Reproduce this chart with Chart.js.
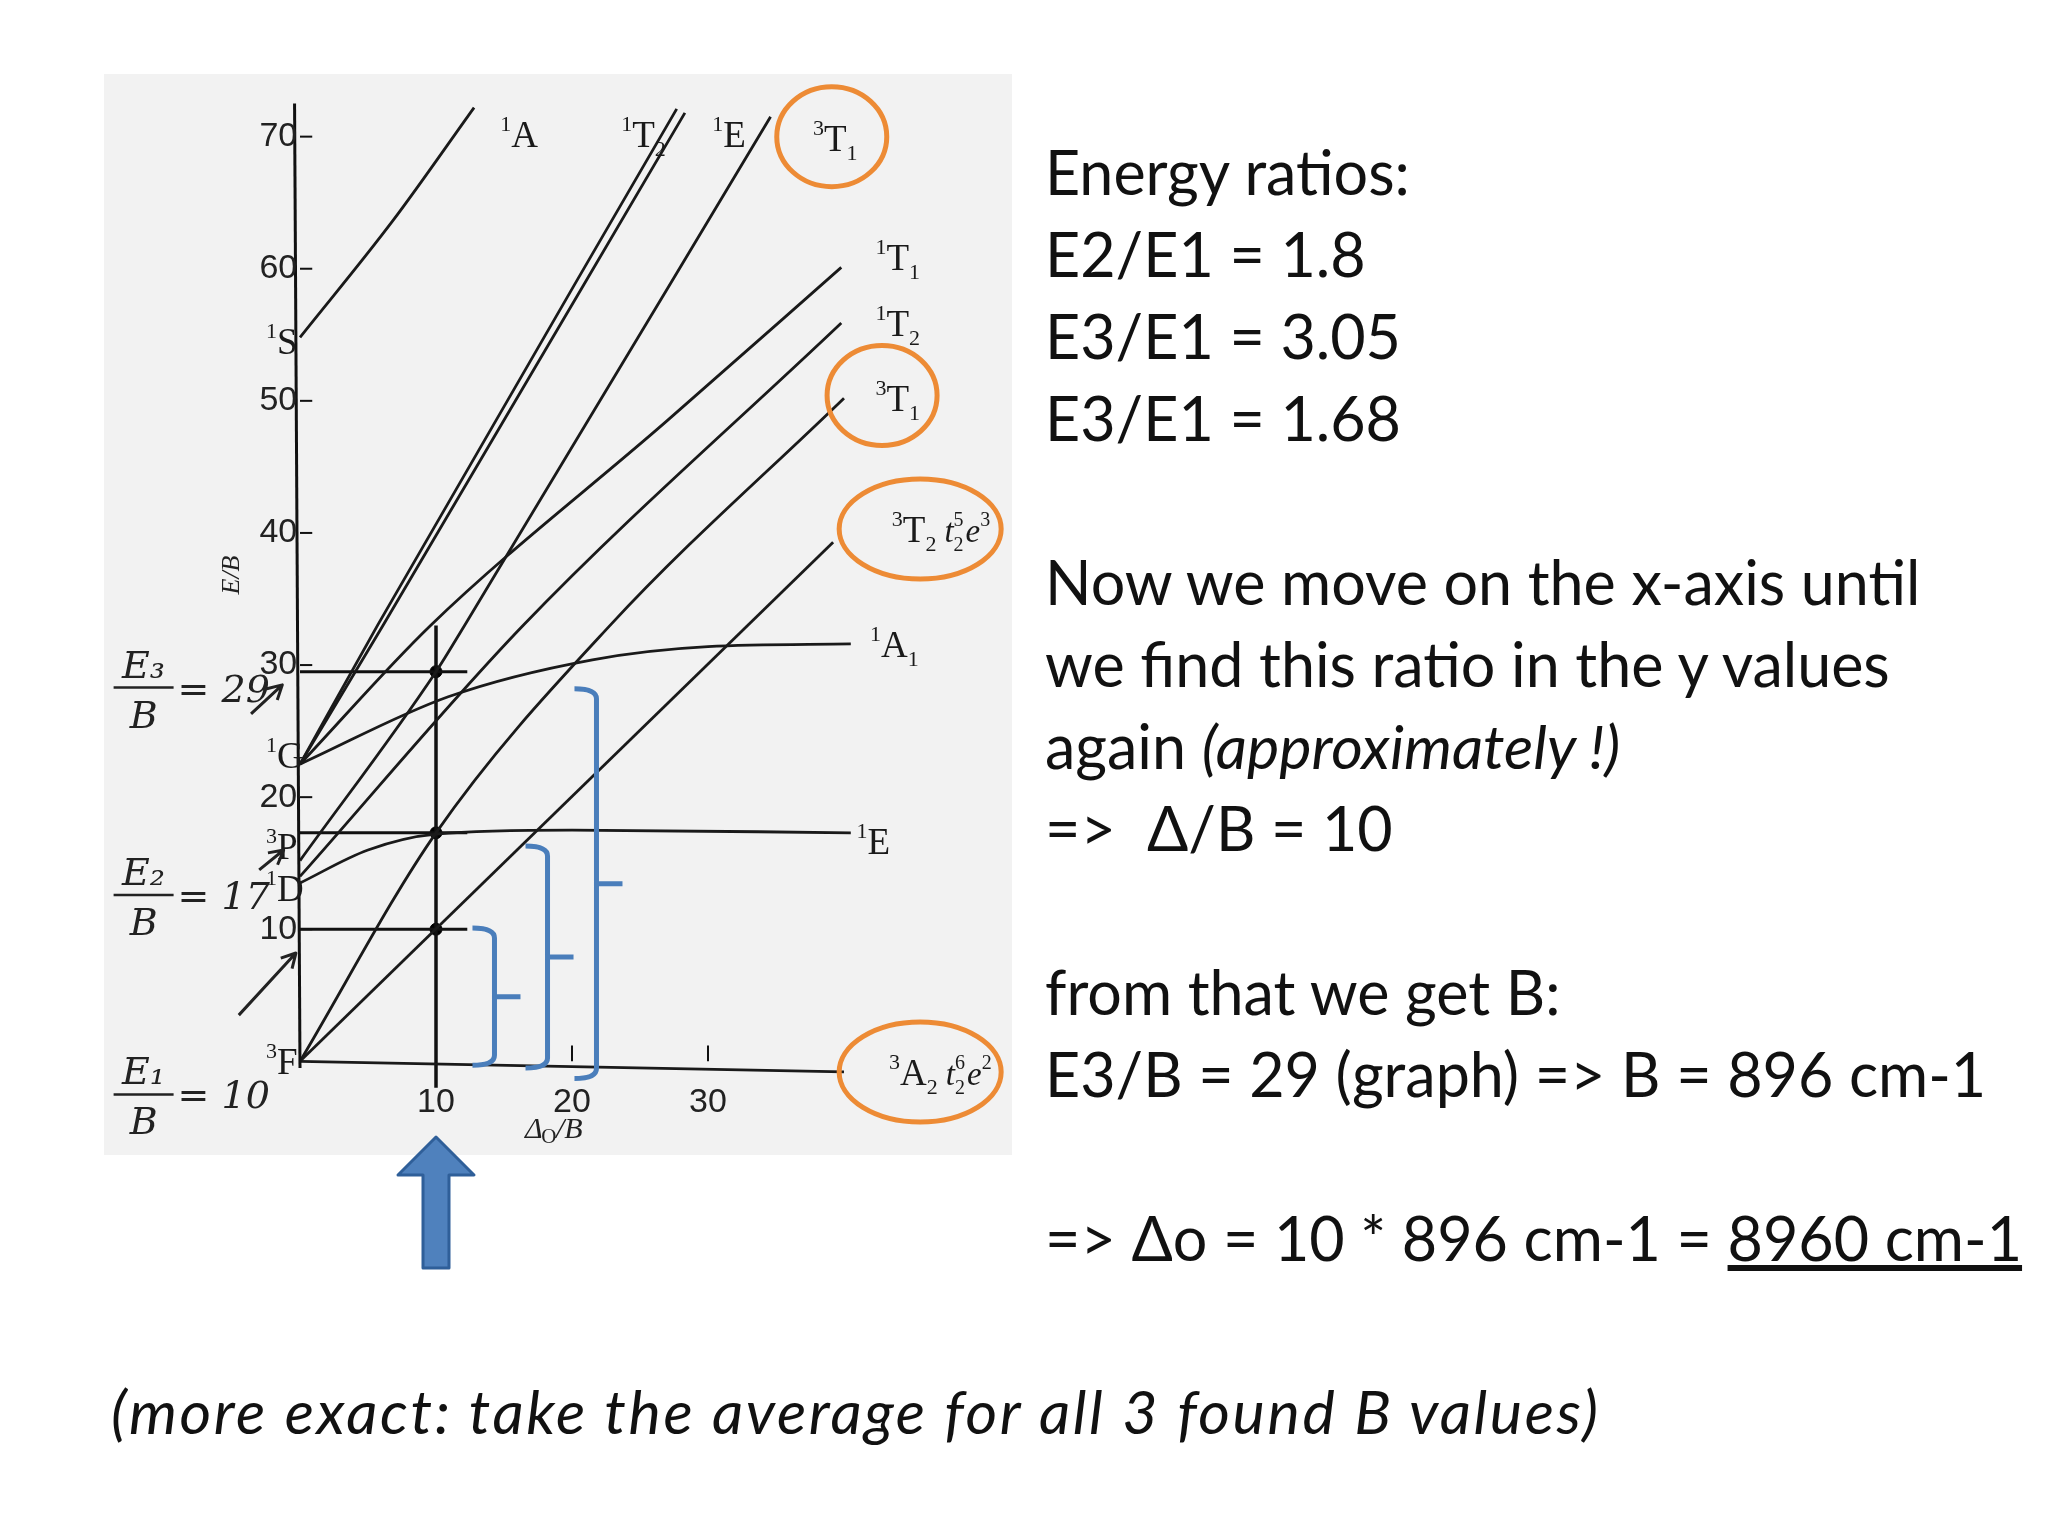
<!DOCTYPE html>
<html>
<head>
<meta charset="utf-8">
<script src="https://cdn.jsdelivr.net/npm/chart.js@4/dist/chart.umd.min.js"></script>
<style>
  body { margin: 0; background: #fff; width: 2048px; height: 1536px; overflow: hidden; position: relative; }
  #wrap { position: absolute; left: 0; top: 0; width: 2048px; height: 1536px; }
  .txt { position: absolute; font-family: Lato, sans-serif; font-size: 61px; line-height: 82px; color: #111; white-space: pre; }
</style>
</head>
<body>
<div id="wrap"><canvas id="myChart" width="2048" height="1536"></canvas></div>
<div class="txt" style="left:1045px; top:131px;">Energy ratios:
E2/E1 = 1.8
E3/E1 = 3.05
E3/E1 = 1.68

Now we move on the x-axis until
we find this ratio in the y values
again <i>(approximately !)</i>
=&gt;  Δ/B = 10

from that we get B:
E3/B = 29 (graph) =&gt; B = 896 cm-1

=&gt; Δo = 10 * 896 cm-1 = <u>8960 cm-1</u></div>
<div class="txt" style="left:111px; top:1370px; font-style:italic; letter-spacing:2.6px;">(more exact: take the average for all 3 found B values)</div>
<script>
const x_1A = [0, 6.8, 12.8];          const y_1A = [54.8, 63.6, 72.2];
const x_1T2g = [0, 5.7, 27.7];        const y_1T2g = [22.5, 33, 72.1];
const x_1Eg = [0, 6.1, 28.3];         const y_1Eg = [22.5, 33, 71.8];
const x_3T1p = [0, 10, 12.1, 34.6];   const y_3T1p = [15.2, 29.5, 33, 71.5];
const x_1T1 = [0, 9.6, 27, 39.8];     const y_1T1 = [22.5, 33, 48.5, 60.1];
const x_1T2d = [0, 16.4, 39.8];       const y_1T2d = [14, 33, 55.9];
const x_3T1f = [0, 10, 22.8, 40];     const y_3T1f = [0, 17.3, 33, 50.2];
const x_3T2 = [0, 39.2];              const y_3T2 = [0, 39.3];
const x_1A1 = [0, 10.9, 21.5, 30, 40.5]; const y_1A1 = [22.5, 27.6, 30.4, 31.4, 31.6];
const x_1Ed = [0, 5, 10, 20, 40.5];   const y_1Ed = [13.5, 16, 17.2, 17.5, 17.3];
const x_3A2 = [0, 40];                const y_3A2 = [0, -0.8];

const yTicks = [10, 20, 30, 40, 50, 60, 70];
const xTicks = [10, 20, 30];

// lecture à Δo/B = 10
const readX = 10;
const readE = [10, 17.3, 29.5];

// accolades : [x, bas, haut]
const brackets = [[14.3, -0.3, 10.1], [18.2, -0.5, 16.3], [21.8, -1.3, 28.2]];

// étiquettes : [texte, exposant, indice, suite, x, y]
const endLabels = [
  ['A', '1', '', '', 15.6, 70.2],
  ['T', '1', '2', '', 24.5, 70.2],
  ['E', '1', '', '', 31.2, 70.2],
  ['T', '3', '1', '', 38.6, 69.9],
  ['T', '1', '1', '', 43.2, 60.9],
  ['T', '1', '2', '', 43.2, 55.9],
  ['T', '3', '1', '', 43.2, 50.2],
  ['T', '3', '2', 't2^5e^3', 44.4, 40.3],
  ['A', '1', '1', '', 42.8, 31.6],
  ['E', '1', '', '', 41.8, 16.7],
  ['A', '3', '2', 't2^6e^2', 44.2, -0.8]
];
const leftLabels = [
  ['S', '1', 54.5], ['G', '1', 23.2], ['P', '3', 16.3], ['D', '1', 13.1], ['F', '3', 0]
];
const circled = [[39.1, 70.0, 55, 50], [42.8, 50.4, 55, 50], [45.6, 40.3, 81, 50], [45.6, -0.8, 81, 50]];

function pts(xs, ys) {
    return xs.map((x, i) => ({x: x, y: ys[i]}));
}

const curves = [
    [x_1A, y_1A], [x_1T2g, y_1T2g], [x_1Eg, y_1Eg], [x_3T1p, y_3T1p], [x_1T1, y_1T1],
    [x_1T2d, y_1T2d], [x_3T1f, y_3T1f], [x_3T2, y_3T2], [x_1A1, y_1A1], [x_1Ed, y_1Ed], [x_3A2, y_3A2]
];

const datasets = curves.map(c => ({
    data: pts(c[0], c[1]),
    showLine: true,
    borderColor: '#1a1a1a',
    borderWidth: 2.8,
    pointRadius: 0,
    cubicInterpolationMode: 'monotone'
}));
// lignes de lecture
datasets.push({data: [{x: readX, y: -2}, {x: readX, y: 33}], showLine: true, borderColor: '#111', borderWidth: 3.5, pointRadius: 0});
readE.forEach(e => {
    datasets.push({data: [{x: 0, y: e}, {x: 12.3, y: e}], showLine: true, borderColor: '#111', borderWidth: 3, pointRadius: 0});
});
datasets.push({data: readE.map(e => ({x: readX, y: e})), showLine: false, pointRadius: 6, backgroundColor: '#000', borderColor: '#000'});

function supLabel(ctx, x, y, sup, main, sub, extra) {
    ctx.font = '22px "Liberation Serif"';
    ctx.fillText(sup, x, y - 16);
    let w = ctx.measureText(sup).width;
    ctx.font = '37px "Liberation Serif"';
    ctx.fillText(main, x + w, y);
    w += ctx.measureText(main).width;
    if (sub) {
        ctx.font = '22px "Liberation Serif"';
        ctx.fillText(sub, x + w, y + 9);
        w += ctx.measureText(sub).width + 8;
    }
    if (extra) {
        const p = extra.match(/t2\^(\d)e\^(\d)/);
        ctx.font = 'italic 33px "Liberation Serif"';
        ctx.fillText('t', x + w, y);
        w += ctx.measureText('t').width;
        ctx.font = '20px "Liberation Serif"';
        ctx.fillText('2', x + w, y + 9);
        ctx.fillText(p[1], x + w, y - 16);
        w += 12;
        ctx.font = 'italic 33px "Liberation Serif"';
        ctx.fillText('e', x + w, y);
        w += ctx.measureText('e').width;
        ctx.font = '20px "Liberation Serif"';
        ctx.fillText(p[2], x + w, y - 16);
    }
}

const decor = {
    id: 'decor',
    beforeDraw(chart) {
        const ctx = chart.ctx;
        ctx.save();
        ctx.fillStyle = '#f2f2f2';
        ctx.fillRect(104, 74, 908, 1081);
        ctx.restore();
    },
    afterDraw(chart) {
        const ctx = chart.ctx;
        const xs = chart.scales.x, ys = chart.scales.y;
        const X = v => xs.getPixelForValue(v), Y = v => ys.getPixelForValue(v);
        ctx.save();
        // axe vertical
        ctx.strokeStyle = '#111';
        ctx.lineWidth = 3;
        ctx.beginPath(); ctx.moveTo(X(0), Y(-0.5)); ctx.lineTo(X(-0.4), Y(72.5)); ctx.stroke();
        ctx.fillStyle = '#222';
        ctx.font = '34px "Liberation Sans Narrow", "Liberation Sans"';
        ctx.textAlign = 'right'; ctx.textBaseline = 'middle';
        yTicks.forEach(t => {
            ctx.beginPath(); ctx.moveTo(X(0), Y(t)); ctx.lineTo(X(0.9), Y(t)); ctx.lineWidth = 2; ctx.stroke();
            ctx.fillText(String(t), X(-0.2), Y(t));
        });
        ctx.textAlign = 'center'; ctx.textBaseline = 'top';
        xTicks.forEach(t => {
            ctx.beginPath(); ctx.moveTo(X(t), Y(0)); ctx.lineTo(X(t), Y(1.2)); ctx.stroke();
            ctx.fillText(String(t), X(t), Y(-1.8));
        });
        ctx.font = 'italic 30px "Liberation Serif"';
        ctx.fillText('Δ', X(17.2), Y(-4.1));
        ctx.font = '21px "Liberation Serif"';
        ctx.fillText('O', X(18.3), Y(-5.0));
        ctx.font = 'italic 30px "Liberation Serif"';
        ctx.fillText('/B', X(19.8), Y(-4.1));
        ctx.save();
        ctx.translate(232, 575); ctx.rotate(-Math.PI / 2);
        ctx.font = 'italic 26px "Liberation Serif"';
        ctx.textBaseline = 'middle';
        ctx.fillText('E/B', 0, 0);
        ctx.restore();

        // étiquettes des termes
        ctx.fillStyle = '#1a1a1a';
        ctx.textAlign = 'left'; ctx.textBaseline = 'alphabetic';
        endLabels.forEach(l => supLabel(ctx, X(l[4]) - 12, Y(l[5]) + 13, l[1], l[0], l[2], l[3]));
        leftLabels.forEach(l => supLabel(ctx, X(-2.5), Y(l[2]) + 13, l[1], l[0], '', ''));

        // cercles orange
        ctx.strokeStyle = '#ed8b35';
        ctx.lineWidth = 5;
        circled.forEach(c => {
            ctx.beginPath(); ctx.ellipse(X(c[0]), Y(c[1]), c[2], c[3], 0, 0, 2 * Math.PI); ctx.stroke();
        });

        // accolades bleues
        ctx.strokeStyle = '#4a7ebb';
        ctx.lineWidth = 5;
        ctx.lineJoin = 'round';
        brackets.forEach(b => {
            const bx = X(b[0]), top = Y(b[2]), bot = Y(b[1]), mid = (top + bot) / 2;
            ctx.beginPath();
            ctx.moveTo(bx - 22, top);
            ctx.quadraticCurveTo(bx, top, bx, top + 10);
            ctx.lineTo(bx, bot - 10);
            ctx.quadraticCurveTo(bx, bot, bx - 22, bot);
            ctx.moveTo(bx, mid);
            ctx.lineTo(bx + 26, mid);
            ctx.stroke();
        });

        // annotations manuscrites
        ctx.fillStyle = '#222';
        ctx.strokeStyle = '#222';
        ctx.lineWidth = 2.5;
        ctx.font = 'italic 38px "DejaVu Serif"';
        const notes = [['E₃', '= 29', 28.3], ['E₂', '= 17', 12.6], ['E₁', '= 10', -2.5]];
        notes.forEach(n => {
            const cx = X(-11.5), cy = Y(n[2]);
            ctx.textAlign = 'center';
            ctx.fillText(n[0], cx, cy - 10);
            ctx.fillText('B', cx, cy + 40);
            ctx.beginPath(); ctx.moveTo(cx - 30, cy); ctx.lineTo(cx + 30, cy); ctx.stroke();
            ctx.textAlign = 'left';
            ctx.fillText(n[1], cx + 34, cy + 14);
        });
        // flèches manuscrites
        const arrows = [[-3.6, 26.3, -1.3, 28.5], [-3.0, 14.5, -1.2, 16.0], [-4.5, 3.5, -0.3, 8.2]];
        ctx.lineWidth = 3;
        arrows.forEach(a => {
            const x1 = X(a[0]), y1 = Y(a[1]), x2 = X(a[2]), y2 = Y(a[3]);
            const ang = Math.atan2(y2 - y1, x2 - x1);
            ctx.beginPath(); ctx.moveTo(x1, y1); ctx.lineTo(x2, y2);
            ctx.lineTo(x2 - 16 * Math.cos(ang - 0.5), y2 - 16 * Math.sin(ang - 0.5));
            ctx.moveTo(x2, y2);
            ctx.lineTo(x2 - 16 * Math.cos(ang + 0.5), y2 - 16 * Math.sin(ang + 0.5));
            ctx.stroke();
        });

        // grosse flèche bleue sous Δo/B = 10
        const ax = X(readX);
        ctx.fillStyle = '#4f81bd';
        ctx.strokeStyle = '#2f5f99';
        ctx.lineWidth = 3;
        ctx.beginPath();
        ctx.moveTo(ax, 1137);
        ctx.lineTo(ax + 38, 1175);
        ctx.lineTo(ax + 13, 1175);
        ctx.lineTo(ax + 13, 1268);
        ctx.lineTo(ax - 13, 1268);
        ctx.lineTo(ax - 13, 1175);
        ctx.lineTo(ax - 38, 1175);
        ctx.closePath();
        ctx.fill(); ctx.stroke();
        ctx.restore();
    }
};

new Chart(document.getElementById('myChart'), {
    type: 'scatter',
    data: {datasets: datasets},
    options: {
        responsive: false,
        animation: false,
        clip: false,
        layout: {padding: {left: 300, right: 1204, top: 97, bottom: 435}},
        plugins: {legend: {display: false}, tooltip: {enabled: false}},
        scales: {
            x: {type: 'linear', min: 0, max: 40, display: false},
            y: {type: 'linear', min: -3, max: 73, display: false}
        }
    },
    plugins: [decor]
});
</script>
</body>
</html>
